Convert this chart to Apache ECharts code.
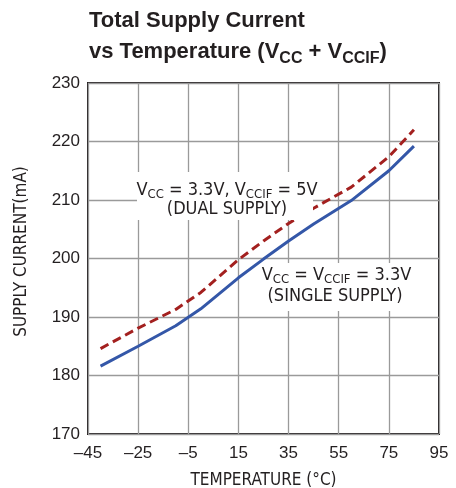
<!DOCTYPE html>
<html>
<head>
<meta charset="utf-8">
<script src="https://cdn.jsdelivr.net/npm/echarts@6/dist/echarts.min.js"></script>
<style>html,body{margin:0;padding:0;background:#fff}#c{width:456px;height:488px}</style>
</head>
<body>
<div id="c"></div>
<script>
var temps = [-40, -25, -10, 0, 15, 25, 35, 45, 60, 75, 85];
var singleSupply = [181.6, 185.0, 188.5, 191.4, 196.7, 199.9, 203.0, 205.9, 209.9, 215.0, 219.2];
var dualSupply = [184.6, 188.1, 191.3, 194.2, 199.8, 203.0, 206.0, 208.6, 212.2, 217.4, 222.0];
var xTickLabels = ['\u201345', '\u201325', '\u20135', '15', '35', '55', '75', '95'];
var xTickValues = [-45, -25, -5, 15, 35, 55, 75, 95];
var yTickLabels = ['170', '180', '190', '200', '210', '220', '230'];

var COND = "'DejaVu Sans Condensed', sans-serif";
var SANS = "'Liberation Sans', Arial, sans-serif";
var TXT = '#231f20';

function pairs(xs, ys) { return xs.map(function (x, i) { return [x, ys[i]]; }); }

var chart = echarts.init(document.getElementById('c'), null, { renderer: 'canvas' });
chart.setOption({
  animation: false,
  backgroundColor: '#fff',
  title: {
    left: 89, top: 5, padding: 0,
    text: '{m|Total Supply Current}\n{m|vs Temperature (V}{s|CC}{m| + V}{s|CCIF}{m|)}',
    textStyle: {
      rich: {
        m: { fontFamily: SANS, fontWeight: 'bold', fontSize: 22, lineHeight: 31, color: TXT },
        s: { fontFamily: SANS, fontWeight: 'bold', fontSize: 16, lineHeight: 15, verticalAlign: 'bottom', color: TXT }
      }
    }
  },
  grid: { left: 88, right: 17, top: 83, bottom: 54, outerBoundsMode: 'none', containLabel: false,
    show: true, borderColor: TXT, borderWidth: 2, backgroundColor: 'transparent' },
  xAxis: {
    type: 'value', min: -45, max: 95, interval: 20,
    name: 'TEMPERATURE (\u00b0C)', nameLocation: 'middle', nameGap: 38,
    nameTextStyle: { fontFamily: COND, fontSize: 17, color: TXT },
    axisLine: { show: false }, axisTick: { show: false },
    axisLabel: { margin: 11, fontFamily: SANS, fontSize: 17, color: TXT,
      formatter: function (v) { var i = xTickValues.indexOf(v); return i >= 0 ? xTickLabels[i] : ''; } },
    splitLine: { show: true, lineStyle: { color: '#9a9a9a', width: 1.3 } }
  },
  yAxis: {
    type: 'value', min: 170, max: 230, interval: 10,
    name: 'SUPPLY CURRENT(mA)', nameLocation: 'middle', nameGap: 58,
    nameTextStyle: { fontFamily: COND, fontSize: 17, color: TXT, padding: [0, 0, 0, 14] },
    axisLine: { show: false }, axisTick: { show: false },
    axisLabel: { margin: 8, fontFamily: SANS, fontSize: 17, color: TXT,
      formatter: function (v) { return yTickLabels[Math.round((v - 170) / 10)]; } },
    splitLine: { show: true, lineStyle: { color: '#9a9a9a', width: 1.3 } }
  },
  series: [
    { name: 'single', type: 'line', data: pairs(temps, singleSupply), symbol: 'none',
      lineStyle: { color: '#3457a8', width: 3 }, z: 3 },
    { name: 'dual', type: 'line', data: pairs(temps, dualSupply), symbol: 'none',
      lineStyle: { color: '#a3201f', width: 3, type: [9, 5] }, z: 4 }
  ],
  graphic: [
    { type: 'rect', shape: { x: 137, y: 172, width: 176, height: 48 }, style: { fill: '#fff' }, z: 10 },
    { type: 'text', x: 227, y: 190, z: 11, style: {
      text: '{m|V}{s|CC}{m| = 3.3V, V}{s|CCIF}{m| = 5V}', align: 'center', verticalAlign: 'middle',
      rich: { m: { fontFamily: COND, fontSize: 18, lineHeight: 22, fill: TXT },
              s: { fontFamily: COND, fontSize: 13, lineHeight: 13, verticalAlign: 'bottom', fill: TXT } } } },
    { type: 'text', x: 227, y: 209.5, z: 11, style: {
      text: '(DUAL SUPPLY)', align: 'center', verticalAlign: 'middle', fontFamily: COND, fontSize: 18, fill: TXT } },
    { type: 'rect', shape: { x: 264, y: 263, width: 144, height: 48 }, style: { fill: '#fff' }, z: 10 },
    { type: 'text', x: 336.5, y: 275, z: 11, style: {
      text: '{m|V}{s|CC}{m| = V}{s|CCIF}{m| = 3.3V}', align: 'center', verticalAlign: 'middle',
      rich: { m: { fontFamily: COND, fontSize: 18, lineHeight: 22, fill: TXT },
              s: { fontFamily: COND, fontSize: 13, lineHeight: 13, verticalAlign: 'bottom', fill: TXT } } } },
    { type: 'text', x: 335, y: 296.5, z: 11, style: {
      text: '(SINGLE SUPPLY)', align: 'center', verticalAlign: 'middle', fontFamily: COND, fontSize: 18, fill: TXT } }
  ]
});
</script>
</body>
</html>
